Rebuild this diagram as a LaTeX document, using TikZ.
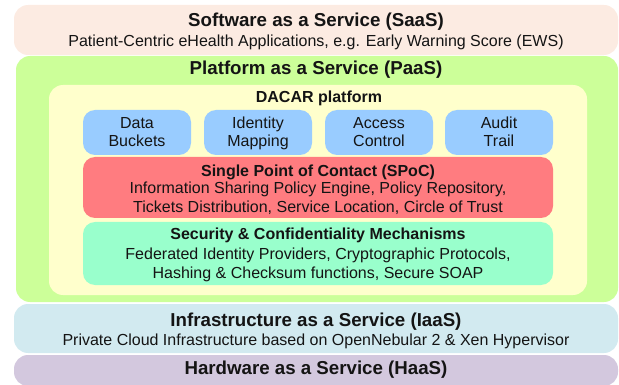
\documentclass[tikz,border=0pt]{standalone}
\usepackage{fontspec}
\setmainfont{Liberation Sans}
\definecolor{saasc}{RGB}{252,235,226}
\definecolor{paasc}{RGB}{204,255,153}
\definecolor{dacarc}{RGB}{255,255,204}
\definecolor{bluec}{RGB}{153,204,255}
\definecolor{redc}{RGB}{255,124,128}
\definecolor{tealc}{RGB}{153,255,204}
\definecolor{iaasc}{RGB}{210,234,240}
\definecolor{haasc}{RGB}{211,200,222}
\definecolor{txt}{RGB}{20,20,20}
\begin{document}
\begin{tikzpicture}[x=1pt,y=-1pt,
  box/.style={draw=none, inner sep=0pt, rounded corners=#1},
  box/.default=14pt,
  ttl/.style={font=\fontsize{18.7}{22}\selectfont\bfseries, anchor=base, inner sep=0pt, text=txt},
  sub/.style={font=\fontsize{16}{19}\selectfont, anchor=base, inner sep=0pt, text=txt},
  subb/.style={font=\fontsize{16}{19}\selectfont\bfseries, anchor=base, inner sep=0pt, text=txt}]
\useasboundingbox (0,0) rectangle (619,385);
% layers
\node[box, fill=saasc, minimum width=604pt, minimum height=50pt] (saas) at (316,30) {};
\node[box, fill=paasc, minimum width=602pt, minimum height=246pt] (paas) at (317,179) {};
\node[box, fill=dacarc, minimum width=538pt, minimum height=210pt] (dacar) at (318,190) {};
\node[box=12pt, fill=bluec, minimum width=108pt, minimum height=45pt] (data) at (137,132.5) {};
\node[box=12pt, fill=bluec, minimum width=108pt, minimum height=45pt] (idm) at (258,132.5) {};
\node[box=12pt, fill=bluec, minimum width=108pt, minimum height=45pt] (acc) at (379,132.5) {};
\node[box=12pt, fill=bluec, minimum width=108pt, minimum height=45pt] (aud) at (499,132.5) {};
\node[box=12pt, fill=redc, minimum width=470pt, minimum height=61pt] (spoc) at (318,187.5) {};
\node[box=12pt, fill=tealc, minimum width=470pt, minimum height=63pt] (sec) at (318,253.5) {};
\node[box, fill=iaasc, minimum width=604pt, minimum height=49pt] (iaas) at (316,328.5) {};
\node[box, fill=haasc, minimum width=604pt, minimum height=31pt] (haas) at (316,370.5) {};
% texts
\node[ttl] (saasT) at (316,26.7) {Software as a Service (SaaS)};
\node[sub] (saasS) at (316,46.7) {Patient-Centric eHealth Applications, e.g. Early Warning Score (EWS)};
\node[ttl] (paasT) at (316,75) {Platform as a Service (PaaS)};
\node[subb] (dacarT) at (319,102.5) {DACAR platform};
\node[sub] (dataA) at (137,128.5) {Data};
\node[sub] (dataB) at (137,147) {Buckets};
\node[sub] (idmA) at (258,128.5) {Identity};
\node[sub] (idmB) at (258,147) {Mapping};
\node[sub] (accA) at (379,128.5) {Access};
\node[sub] (accB) at (379,147) {Control};
\node[sub] (audA) at (499,128.5) {Audit};
\node[sub] (audB) at (499,147) {Trail};
\node[subb] (spocT) at (318,176.5) {Single Point of Contact (SPoC)};
\node[sub] (spocA) at (318,194) {Information Sharing Policy Engine, Policy Repository,};
\node[sub] (spocB) at (318,212) {Tickets Distribution, Service Location, Circle of Trust};
\node[subb] (secT) at (318,240) {Security \& Confidentiality Mechanisms};
\node[sub] (secA) at (318,259) {Federated Identity Providers, Cryptographic Protocols,};
\node[sub] (secB) at (318,278) {Hashing \& Checksum functions, Secure SOAP};
\node[ttl] (iaasT) at (316,326) {Infrastructure as a Service (IaaS)};
\node[sub] (iaasS) at (316,345) {Private Cloud Infrastructure based on OpenNebular 2 \& Xen Hypervisor};
\node[ttl] (haasT) at (316,374) {Hardware as a Service (HaaS)};
\end{tikzpicture}
\end{document}
